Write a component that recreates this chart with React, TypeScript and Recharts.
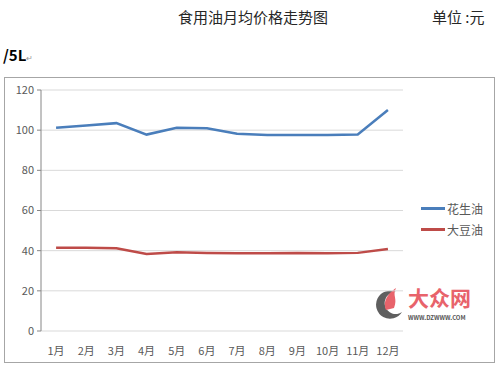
import { CartesianGrid, Line, LineChart, XAxis, YAxis } from 'recharts';

const months = ['1月', '2月', '3月', '4月', '5月', '6月', '7月', '8月', '9月', '10月', '11月', '12月'];
const peanutOil = [101.2, 102.3, 103.5, 97.8, 101.2, 101, 98.2, 97.6, 97.6, 97.6, 97.9, 110];
const soybeanOil = [41.5, 41.5, 41.2, 38.3, 39.2, 38.9, 38.7, 38.7, 38.9, 38.7, 38.9, 40.8];
const yTicks = [0, 20, 40, 60, 80, 100, 120];
const seriesNames = ['花生油', '大豆油'];
const seriesColors = ['#4a7ebb', '#be4b48'];

const data = months.map((m, i) => ({ idx: i + 1, month: m, peanut: peanutOil[i], soybean: soybeanOil[i] }));
const monthTicks = months.map((_, i) => i + 1);
const boundaryTicks = [...months.map((_, i) => i + 0.5), months.length + 0.5];

const font = '"Noto Sans CJK SC", "Noto Sans", sans-serif';
const tickStyle = { fill: '#595959', fontSize: 11, fontFamily: font };

export default function App() {
  return (
    <div style={{ position: 'absolute', left: 0, top: 0, width: 500, height: 371, background: '#fff', fontFamily: font }}>
      <div style={{ position: 'absolute', left: 178, top: 6, fontSize: 15, color: '#262626' }}>食用油月均价格走势图</div>
      <div style={{ position: 'absolute', left: 432, top: 6, fontSize: 15, color: '#262626' }}>单位 :元</div>
      <div style={{ position: 'absolute', left: 3, top: 44, fontSize: 15, color: '#000', fontWeight: 600 }}>
        /5L<span style={{ fontSize: 8, color: '#999', fontWeight: 400 }}>↵</span>
      </div>
      <div style={{ position: 'absolute', left: 4, top: 77, width: 489, height: 284, border: '1px solid #a6a6a6' }} />
      <div style={{ position: 'absolute', left: 372, top: 284, width: 110, height: 45 }}>
        <svg width={34} height={34} style={{ position: 'absolute', left: 0, top: 2 }}>
          <path d="M24 6 A14 14 0 1 0 30 26 A11 11 0 1 1 24 6 Z" fill="#5f5f5f" />
          <path d="M14 24 C10 14 18 6 24 2 C20 10 26 12 22 22 Z" fill="#e8636b" />
        </svg>
        <div style={{ position: 'absolute', left: 36, top: 0, fontSize: 21, color: '#e8636b', fontWeight: 700, whiteSpace: 'nowrap', lineHeight: '26px' }}>大众网</div>
        <div style={{ position: 'absolute', left: 36, top: 29, fontSize: 6, color: '#555', fontWeight: 700, whiteSpace: 'nowrap' }}>WWW.DZWWW.COM</div>
      </div>
      <div style={{ position: 'absolute', left: 421, top: 198 }}>
        {seriesNames.map((n, i) => (
          <div key={n} style={{ display: 'flex', alignItems: 'center', height: 21, fontSize: 12, color: '#595959' }}>
            <span style={{ display: 'inline-block', width: 24, height: 2.5, background: seriesColors[i], marginRight: 2 }} />
            {n}
          </div>
        ))}
      </div>
      <div style={{ position: 'absolute', left: 0, top: 0 }}>
        <LineChart width={500} height={371} data={data} margin={{ top: 90, right: 97, bottom: 0, left: 0 }}>
          <CartesianGrid xAxisId="m" stroke="#d9d9d9" vertical={false} />
          <XAxis
            xAxisId="b"
            dataKey="idx"
            type="number"
            domain={[0.5, months.length + 0.5]}
            ticks={boundaryTicks}
            tickFormatter={() => ''}
            height={0}
            tickSize={5}
            axisLine={{ stroke: '#868686' }}
            tickLine={{ stroke: '#868686' }}
          />
          <XAxis
            xAxisId="m"
            dataKey="idx"
            type="number"
            domain={[0.5, months.length + 0.5]}
            ticks={monthTicks}
            tickFormatter={(v: number) => months[v - 1]}
            interval={0}
            height={40}
            axisLine={false}
            tickLine={false}
            tickMargin={10}
            tick={tickStyle}
          />
          <YAxis
            domain={[0, 120]}
            ticks={yTicks}
            width={41}
            tickSize={4}
            tickMargin={3}
            axisLine={{ stroke: '#868686' }}
            tickLine={{ stroke: '#868686' }}
            tick={tickStyle}
          />
          <Line xAxisId="m" dataKey="peanut" name={seriesNames[0]} stroke={seriesColors[0]} strokeWidth={2.5} dot={false} isAnimationActive={false} />
          <Line xAxisId="m" dataKey="soybean" name={seriesNames[1]} stroke={seriesColors[1]} strokeWidth={2.5} dot={false} isAnimationActive={false} />
        </LineChart>
      </div>
    </div>
  );
}
